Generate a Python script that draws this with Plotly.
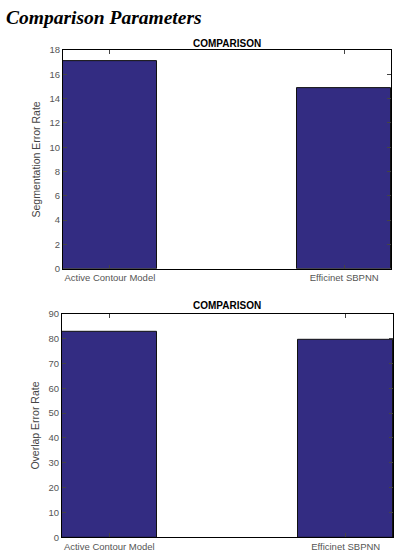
import plotly.graph_objects as go

categories = ["Active Contour Model", "Efficinet SBPNN"]
seg_error = [17.1, 14.9]
overlap_error = [82.9, 79.7]
seg_ticks = [0, 2, 4, 6, 8, 10, 12, 14, 16, 18]
ov_ticks = [0, 10, 20, 30, 40, 50, 60, 70, 80, 90]

W, H = 394, 558
BAR = "#332c82"
TICKC = "#555555"

fig = go.Figure()
fig.add_trace(go.Bar(x=categories, y=seg_error, width=0.4, marker=dict(color=BAR, line=dict(color="#111", width=1)),
                     xaxis="x", yaxis="y", showlegend=False))
fig.add_trace(go.Bar(x=categories, y=overlap_error, width=0.4, marker=dict(color=BAR, line=dict(color="#111", width=1)),
                     xaxis="x2", yaxis="y2", showlegend=False))

def px_x(a, b):
    return [a / W, b / W]

def px_y(top, bottom):
    return [1 - bottom / H, 1 - top / H]

axcommon = dict(showline=True, linecolor="black", linewidth=1, mirror="ticks", ticks="inside",
                ticklen=4, tickcolor="#444", showgrid=False, zeroline=False,
                tickfont=dict(family="Liberation Sans, Arial", size=9.5, color=TICKC))

fig.update_layout(
    width=W, height=H, margin=dict(l=0, r=0, t=0, b=0),
    paper_bgcolor="white", plot_bgcolor="white", bargap=0,
    xaxis=dict(domain=px_x(63, 391), anchor="y", range=[-0.2, 1.2], **axcommon),
    yaxis=dict(domain=px_y(45, 268), anchor="x", range=[0, 18], tickvals=seg_ticks,
               title=dict(text="Segmentation Error Rate", font=dict(family="Liberation Sans, Arial", size=10.5, color="#444"), standoff=6),
               **axcommon),
    xaxis2=dict(domain=px_x(62, 393), anchor="y2", range=[-0.2, 1.2], **axcommon),
    yaxis2=dict(domain=px_y(314, 542), anchor="x2", range=[0, 90], tickvals=ov_ticks,
                title=dict(text="Overlap Error Rate", font=dict(family="Liberation Sans, Arial", size=10.5, color="#444"), standoff=6),
                **axcommon),
    annotations=[
        dict(text="<b><i>Comparison Parameters</i></b>", x=4 / W, y=1 - 12 / H, xref="paper", yref="paper",
             xanchor="left", yanchor="middle", showarrow=False,
             font=dict(family="Liberation Serif, Times New Roman", size=19.5, color="black")),
        dict(text="<b>COMPARISON</b>", x=227 / W, y=1 - 38 / H, xref="paper", yref="paper",
             xanchor="center", yanchor="middle", showarrow=False,
             font=dict(family="Liberation Sans, Arial", size=10, color="black")),
        dict(text="<b>COMPARISON</b>", x=227 / W, y=1 - 306 / H, xref="paper", yref="paper",
             xanchor="center", yanchor="middle", showarrow=False,
             font=dict(family="Liberation Sans, Arial", size=10, color="black")),
    ],
)

fig.write_html("out.html")
